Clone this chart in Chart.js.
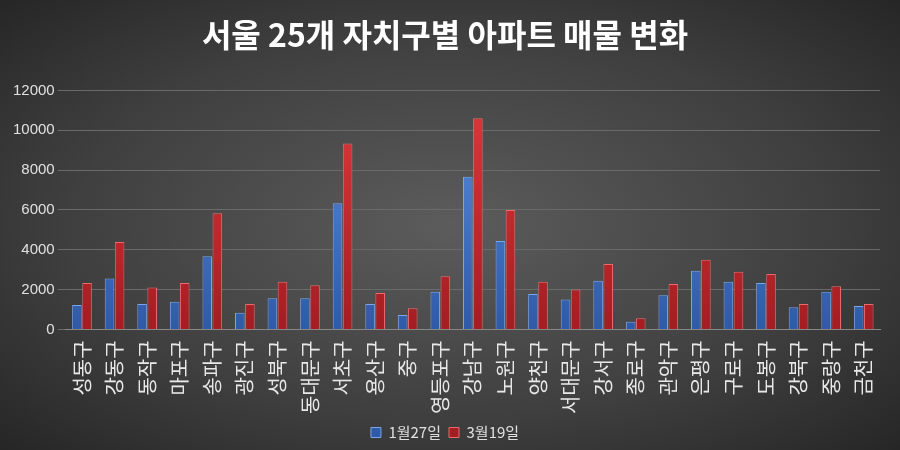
<!DOCTYPE html>
<html><head><meta charset="utf-8">
<script src="https://cdn.jsdelivr.net/npm/chart.js@4/dist/chart.umd.min.js"></script>
<style>
html,body{margin:0;padding:0;}
body{width:900px;height:450px;background:radial-gradient(ellipse at center,#5c5c5c 0%,#3f3f3f 60%,#262626 100%);}
#wrap{position:relative;width:900px;height:450px;}
</style></head><body>
<div id="wrap"><canvas id="c" width="900" height="450"></canvas></div>
<script>
const categories=['성동구','강동구','동작구','마포구','송파구','광진구','성북구','동대문구','서초구','용산구','중구','영등포구','강남구','노원구','양천구','서대문구','강서구','종로구','관악구','은평구','구로구','도봉구','강북구','중랑구','금천구'];
const jan27=[1220,2560,1280,1390,3670,830,1560,1560,6330,1280,720,1890,7670,4440,1780,1500,2440,390,1720,2940,2390,2330,1110,1890,1170];
const mar19=[2330,4390,2110,2330,5830,1280,2390,2220,9330,1830,1060,2670,10600,6000,2390,2000,3280,560,2280,3500,2890,2780,1280,2170,1280];
const seriesNames=['1월27일','3월19일'];
function grad(ctx,c1,c2){const a=ctx.chart.chartArea;if(!a)return c1;const g=ctx.chart.ctx.createLinearGradient(0,a.top,0,a.bottom);g.addColorStop(0,c1);g.addColorStop(1,c2);return g;}
new Chart(document.getElementById('c'),{type:'bar',
data:{labels:categories,datasets:[
{label:seriesNames[0],data:jan27,backgroundColor:c=>grad(c,'#5b8fe0','#2f5aa8'),borderColor:'#7aa6ea',borderWidth:1,categoryPercentage:0.62,barPercentage:0.95},
{label:seriesNames[1],data:mar19,backgroundColor:c=>grad(c,'#e0393c','#a31d22'),borderColor:'#e86a6c',borderWidth:1,categoryPercentage:0.62,barPercentage:0.95}]},
options:{responsive:false,animation:false,
layout:{padding:{left:10,right:20,top:0,bottom:0}},
plugins:{title:{display:true,text:'서울 25개 자치구별 아파트 매물 변화',color:'#ffffff',font:{family:'Noto Sans CJK KR',size:32,weight:'bold'},padding:{top:16,bottom:36}},
legend:{position:'bottom',labels:{color:'#e0e0e0',font:{family:'Noto Sans CJK KR',size:15},boxWidth:10,boxHeight:10,padding:8}}},
scales:{x:{grid:{display:false},border:{color:'#888'},ticks:{color:'#e8e8e8',font:{family:'Noto Sans CJK KR',size:20},maxRotation:90,minRotation:90,autoSkip:false}},
y:{min:0,max:12000,ticks:{stepSize:2000,color:'#e0e0e0',font:{family:'Liberation Sans',size:15},callback:v=>String(v)},grid:{color:'#6a6a6a'},border:{display:false}}}}});
</script></body></html>
